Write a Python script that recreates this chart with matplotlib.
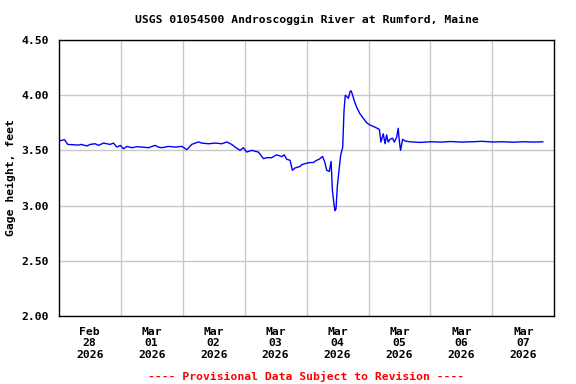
import matplotlib
matplotlib.use("Agg")
import matplotlib.pyplot as plt
import datetime as dt

# Hours since 2026-02-28 00:00
hours = [0, 2.2, 3.5, 7.7, 8.7, 10.9, 12.2, 14.1, 15.4, 17.3, 19.9, 21.2, 22.5, 23.8,
         25.1, 26.4, 28.3, 30.3, 32.2, 34.8, 37.3, 38.6, 39.9, 42.5, 45.1, 47.7, 49.6,
         51.5, 54.1, 55.4, 58.0, 60.6, 63.2, 65.1, 67.0, 68.3, 70.2, 71.5, 72.8, 74.8,
         77.3, 79.3, 80.6, 82.5, 84.4, 86.4, 87.3, 88.3, 89.6, 90.5, 91.5, 93.5, 94.1,
         95.4, 97.3, 98.6, 99.9, 100.9, 102.2, 103.1, 103.8, 104.8, 105.5, 106.0, 106.6,
         107.0, 107.4, 107.9, 108.7, 109.2, 110.0, 110.5, 111.0, 111.5, 112.2, 112.8,
         113.2, 113.7, 114.4, 115.4, 116.7, 118.0, 119.3, 120.5, 122.5, 124.2, 124.8,
         125.7, 126.4, 127.0, 127.6, 128.3, 129.3, 130.0, 130.9, 131.5, 131.9, 132.4,
         133.2, 134.1, 136, 140, 144, 148, 152, 156, 160, 164, 168, 172, 176, 180, 184, 187.5]
gage = [3.585, 3.597, 3.554, 3.548, 3.554, 3.54, 3.554, 3.56, 3.545, 3.566, 3.554, 3.566,
        3.53, 3.545, 3.515, 3.536, 3.524, 3.533, 3.53, 3.524, 3.545, 3.53, 3.524, 3.536,
        3.53, 3.536, 3.506, 3.554, 3.576, 3.566, 3.56, 3.566, 3.56, 3.576, 3.554, 3.53,
        3.50, 3.524, 3.485, 3.50, 3.485, 3.425, 3.434, 3.434, 3.46, 3.443, 3.46, 3.42,
        3.41, 3.32, 3.34, 3.355, 3.37, 3.38, 3.39, 3.39, 3.41, 3.42, 3.445, 3.39, 3.32,
        3.31, 3.40, 3.14, 3.015, 2.955, 2.97, 3.17, 3.35, 3.455, 3.53, 3.86, 4.0, 3.99,
        3.97, 4.03, 4.04, 4.01, 3.955, 3.89, 3.83, 3.79, 3.75, 3.73, 3.71, 3.69, 3.575,
        3.65, 3.56, 3.64, 3.575, 3.60, 3.61, 3.575, 3.62, 3.70, 3.59, 3.50, 3.60, 3.585,
        3.578, 3.572, 3.578, 3.575, 3.58, 3.575, 3.578, 3.582, 3.576, 3.578, 3.574,
        3.578, 3.575, 3.578]

start = dt.datetime(2026, 2, 28)
times = [start + dt.timedelta(hours=h) for h in hours]

day_labels = ["Feb\n28\n2026", "Mar\n01\n2026", "Mar\n02\n2026", "Mar\n03\n2026",
              "Mar\n04\n2026", "Mar\n05\n2026", "Mar\n06\n2026", "Mar\n07\n2026"]
y_ticks = [2.00, 2.50, 3.00, 3.50, 4.00, 4.50]

mono = "DejaVu Sans Mono"
fs = 8.2

fig = plt.figure(figsize=(5.76, 3.84), dpi=100)
ax = fig.add_axes([0.102, 0.177, 0.8605, 0.719])

ax.plot(times, gage, color="#0000ff", linewidth=1.0)

ax.set_xlim(start, start + dt.timedelta(days=8))
ax.set_ylim(2.0, 4.5)

major = [start + dt.timedelta(days=i) for i in range(1, 8)]
minor = [start + dt.timedelta(days=i, hours=12) for i in range(8)]
ax.set_xticks(major)
ax.set_xticklabels([])
ax.set_xticks(minor, minor=True)
ax.set_xticklabels(day_labels, minor=True, fontfamily=mono, fontweight="bold",
                   fontsize=fs, linespacing=1.15)
ax.tick_params(axis="x", which="both", length=0, pad=8)

ax.set_yticks(y_ticks)
ax.set_yticklabels([f"{v:.2f}" for v in y_ticks], fontfamily=mono,
                   fontweight="bold", fontsize=fs)
ax.tick_params(axis="y", length=0, pad=7)

ax.grid(True, which="major", color="#c8c8c8", linewidth=1.0)
ax.set_axisbelow(True)
for s in ax.spines.values():
    s.set_linewidth(1.0)
    s.set_color("black")

ax.set_ylabel("Gage height, feet", fontfamily=mono, fontweight="bold", fontsize=fs,
              labelpad=4)

cx = 0.102 + 0.8605 / 2
fig.text(cx, 1 - 20 / 384, "USGS 01054500 Androscoggin River at Rumford, Maine",
         ha="center", va="center", fontfamily=mono, fontweight="bold", fontsize=fs)
fig.text(cx, 1 - 376 / 384, "---- Provisional Data Subject to Revision ----",
         ha="center", va="center", fontfamily=mono, fontweight="bold", fontsize=fs,
         color="red")

fig.savefig("out.png", dpi=100)
